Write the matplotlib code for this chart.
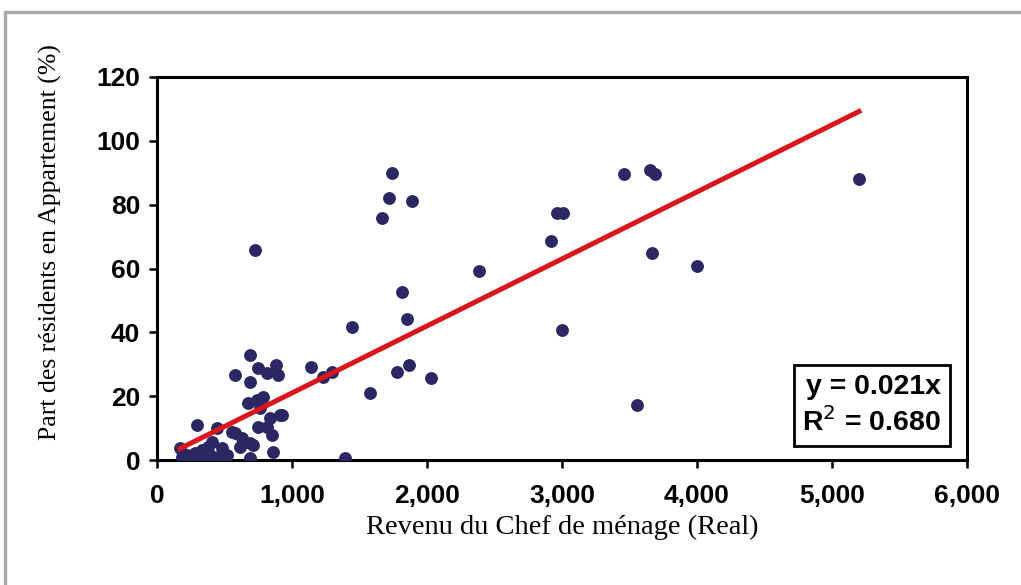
import numpy as np
import matplotlib
matplotlib.use('Agg')
import matplotlib.pyplot as plt
from matplotlib.patches import Rectangle

# household head income (Real) and share living in apartments (%)
revenu = [
    5200, 3459, 3652, 3689, 2963, 3007, 2919, 3667, 4000, 3000, 3556,
    1741, 1719, 1889, 1667, 2385,
    689, 578, 689, 748, 815, 881, 896, 1141, 1230, 1296, 1444, 1578,
    1778, 1867, 2030, 1393, 1815, 1852, 726, 926,
    674, 741, 785, 763, 911, 837, 748, 815, 852, 859, 689, 578, 630,
    615, 689, 711, 296, 444, 481, 378, 393, 170, 222, 281, 333, 341,
    452, 519, 259, 185, 407, 556,
]
part_appart = [
    88, 89.5, 91, 89.5, 77.3, 77.3, 68.6, 64.8, 60.8, 40.8, 17.1,
    89.8, 82, 81, 75.7, 59.2,
    32.9, 26.6, 24.4, 28.8, 27.3, 29.8, 26.6, 29.1, 26, 27.6, 41.7, 21,
    27.6, 29.8, 25.7, 0.6, 52.7, 44.2, 65.8, 14.1,
    17.9, 18.8, 19.7, 16.3, 14.1, 13.2, 10.3, 10.3, 7.8, 2.5, 0.6, 8.5, 6.9,
    4.1, 5.3, 4.7, 11, 10, 3.8, 4.1, 1.6, 3.8, 1.6, 2.2, 3.1, 0.9,
    0.9, 1.6, 0.6, 0.9, 5.6, 8.8,
]
pente = 0.021
r2 = 0.680

x_ticks = [0, 1000, 2000, 3000, 4000, 5000, 6000]
y_ticks = [0, 20, 40, 60, 80, 100, 120]

fig = plt.figure(figsize=(10.21, 5.85), dpi=100)
ax = fig.add_axes([157 / 1021, 1 - 460 / 585, 810 / 1021, 383 / 585])

# outer grey frame of the original picture
fig.patches.append(Rectangle((5 / 1021, -0.1), 1.2, 1 - 12 / 585 + 0.1,
                             transform=fig.transFigure, fill=False,
                             edgecolor='#a8a8a8', linewidth=2.5))

ax.scatter(revenu, part_appart, s=68, color='#2b2763', zorder=3)

xl = np.array([min(revenu), max(revenu)])
ax.plot(xl, pente * xl, color='#d8161b', linewidth=3.6, zorder=4)

ax.set_xlim(0, 6000)
ax.set_ylim(0, 120)
ax.set_xticks(x_ticks)
ax.set_yticks(y_ticks)
ax.set_xticklabels([f'{v:,}' for v in x_ticks])
ax.set_yticklabels([str(v) for v in y_ticks])
for lab in ax.get_xticklabels() + ax.get_yticklabels():
    lab.set_fontfamily('Liberation Sans')
    lab.set_fontweight('bold')
    lab.set_fontsize(19)
ax.tick_params(axis='both', direction='out', length=6, width=1.8, color='black')
ax.tick_params(axis='x', pad=11)
ax.tick_params(axis='y', pad=6)
for sp in ax.spines.values():
    sp.set_linewidth(2.2)

ax.set_xlabel('Revenu du Chef de ménage (Real)', fontfamily='Liberation Serif',
              fontsize=20.5, labelpad=5)
ax.set_ylabel('Part des résidents en Appartement (%)', fontfamily='Liberation Serif',
              fontsize=18.5)
ax.yaxis.set_label_coords(-0.117, 0.57)

ax.text(0.968, 0.06, f'y = {pente}x\nR$^2$ = {r2:.3f}', transform=ax.transAxes,
        ha='right', va='bottom', fontfamily='Liberation Sans', fontweight='bold',
        fontsize=20.5, linespacing=1.3,
        bbox=dict(boxstyle='square,pad=0.3', facecolor='white', edgecolor='black',
                  linewidth=2))

fig.savefig('out.png', dpi=100)
